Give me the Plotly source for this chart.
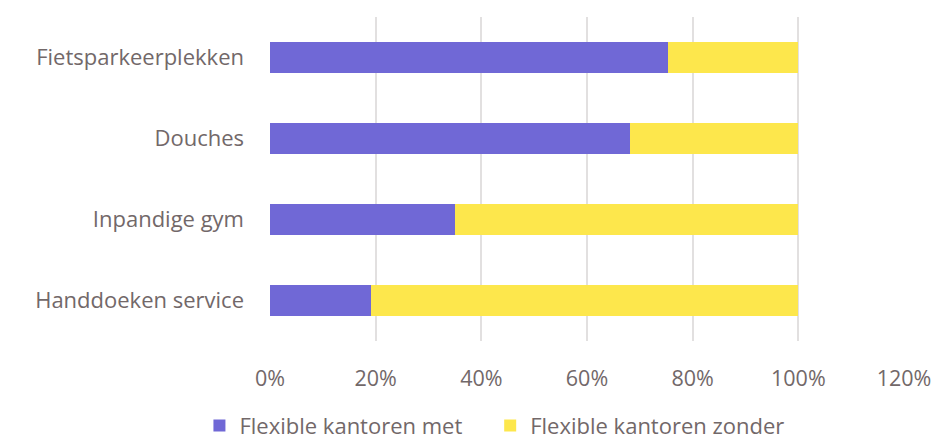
import plotly.graph_objects as go

categories = ["Fietsparkeerplekken", "Douches", "Inpandige gym", "Handdoeken service"]
met_values = [0.753, 0.681, 0.350, 0.191]
zonder_values = [0.247, 0.319, 0.650, 0.809]
series_names = ["Flexible kantoren met\u00a0\u00a0\u00a0\u00a0", "Flexible kantoren zonder"]
series_colors = ["#7068d6", "#fde74c"]
tick_values = [0, 0.2, 0.4, 0.6, 0.8, 1.0, 1.2]

text_color = "#726869"
font_family = "'Open Sans', sans-serif"

fig = go.Figure()
for vals, name, col in zip([met_values, zonder_values], series_names, series_colors):
    fig.add_trace(go.Bar(
        y=categories, x=vals, name=name.strip("\u00a0"), orientation="h",
        marker=dict(color=col, line=dict(width=0)), width=0.39,
        showlegend=False,
    ))
    # legend entry with a larger square symbol
    fig.add_trace(go.Scatter(
        x=[None], y=[None], mode="markers", name=name,
        marker=dict(symbol="square", size=16, color=col),
        showlegend=True, hoverinfo="skip",
    ))

fig.update_layout(
    barmode="stack",
    width=936, height=442,
    margin=dict(l=270, r=32, t=17, b=101),
    paper_bgcolor="white", plot_bgcolor="white",
    font=dict(family=font_family, size=22, color=text_color),
    xaxis=dict(
        range=[0, 1.2], tickvals=tick_values, tickformat=".0%",
        showgrid=True, gridcolor="#e2e0e0", gridwidth=2,
        zeroline=False, showline=False, ticks="", automargin=False,
        tickfont=dict(size=21.5, color=text_color), ticklabelstandoff=22,
    ),
    yaxis=dict(
        autorange="reversed", showgrid=False, zeroline=False, showline=False,
        ticks="", ticklabelstandoff=25, automargin=False,
        tickfont=dict(size=22, color=text_color),
    ),
    legend=dict(
        orientation="h", x=0.354, xanchor="center",
        yref="container", y=0.037, yanchor="middle",
        font=dict(size=22, color=text_color), itemwidth=30,
        itemsizing="constant", traceorder="normal",
    ),
    showlegend=True,
)

fig.write_html("out.html")
